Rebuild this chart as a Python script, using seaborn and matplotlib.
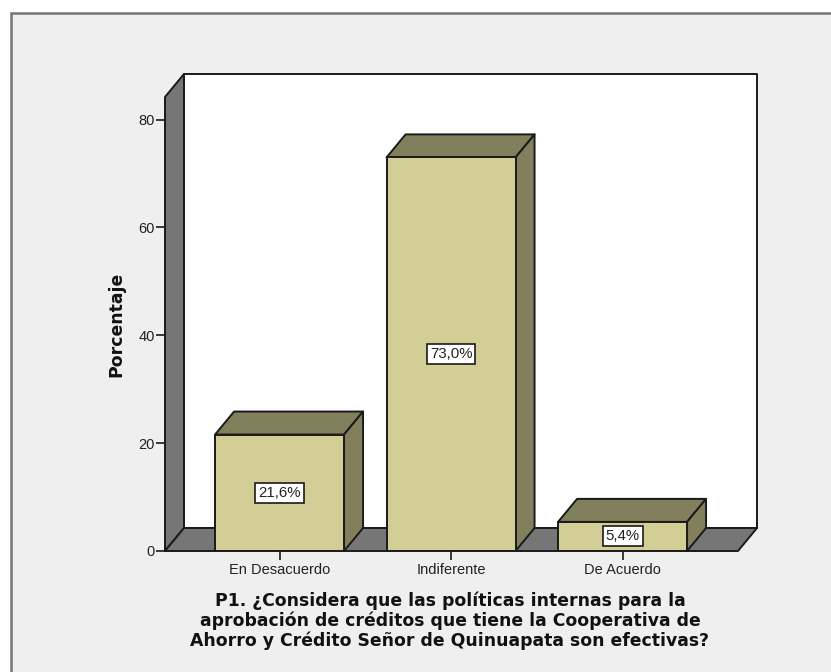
import matplotlib
matplotlib.use("Agg")
import matplotlib.pyplot as plt
from matplotlib.patches import Polygon, Rectangle
import seaborn as sns
import pandas as pd

categories = ["En Desacuerdo", "Indiferente", "De Acuerdo"]
percentages = [21.6, 73.0, 5.4]
value_labels = ["21,6%", "73,0%", "5,4%"]
y_ticks = [0, 20, 40, 60, 80]
y_label = "Porcentaje"
x_title = ("P1. ¿Considera que las políticas internas para la\n"
           "aprobación de créditos que tiene la Cooperativa de\n"
           "Ahorro y Crédito Señor de Quinuapata son efectivas?")

W, H = 831, 672
FACE = "#D2CE96"
SHADE = "#817F5C"
WALL = "#767676"
INK = "#1A1A1A"
PANEL = "#EFEFEF"

sns.set_theme(style="white")
plt.rcParams["font.family"] = ["Liberation Sans", "DejaVu Sans"]

fig = plt.figure(figsize=(W / 100, H / 100), dpi=100, facecolor="white")
fig.add_artist(Rectangle((11 / W, -0.01), (W - 5) / W, 1 - 13 / H + 0.01, transform=fig.transFigure,
                         facecolor=PANEL, edgecolor="#747474", linewidth=1.8, zorder=-1))

ax = fig.add_axes([165 / W, 1 - 551 / H, 573 / W, 454 / H])
ax.patch.set_alpha(0)
df = pd.DataFrame({"categoria": categories, "porcentaje": percentages})
sns.barplot(data=df, x="categoria", y="porcentaje", ax=ax, width=0.752,
            color=FACE, saturation=1, edgecolor=INK, linewidth=1.4, zorder=5)

ax.set_xlim(-0.668, 2.673)
ax.set_ylim(0, 84.2)

# Oblique projection offsets for the 3D box look
dx = 19 / 573 * (ax.get_xlim()[1] - ax.get_xlim()[0])
dy = 23 / 454 * ax.get_ylim()[1]
x0, x1 = ax.get_xlim()
y0, y1 = ax.get_ylim()

def face(points, color, z):
    ax.add_patch(Polygon(points, closed=True, facecolor=color, edgecolor=INK,
                         linewidth=1.4, joinstyle="round", clip_on=False, zorder=z))

face([(x0 + dx, y0 + dy), (x1 + dx, y0 + dy), (x1 + dx, y1 + dy), (x0 + dx, y1 + dy)], "white", 1)
face([(x0, y0), (x0 + dx, y0 + dy), (x0 + dx, y1 + dy), (x0, y1)], WALL, 2)
face([(x0, y0), (x1, y0), (x1 + dx, y0 + dy), (x0 + dx, y0 + dy)], WALL, 2)

half = 0.752 / 2
for i, v in enumerate(percentages):
    left, right = i - half, i + half
    face([(left, v), (right, v), (right + dx, v + dy), (left + dx, v + dy)], SHADE, 4)
    face([(right, 0), (right + dx, dy), (right + dx, v + dy), (right, v)], SHADE, 4)
    ax.text(i, v / 2, value_labels[i], ha="center", va="center", fontsize=10.8,
            color="#222222", zorder=7,
            bbox=dict(boxstyle="square,pad=0.2", facecolor="white", edgecolor=INK, linewidth=1.2))

ax.set_yticks(y_ticks)
ax.set_xticks(range(len(categories)))
ax.set_xticklabels(categories)
ax.tick_params(axis="both", length=6.5, width=1.2, color=INK, labelcolor="#222222",
               labelsize=10.5, pad=1, bottom=True, left=True)
ax.tick_params(axis="x", pad=2)
for side in ("top", "right", "left", "bottom"):
    ax.spines[side].set_visible(False)

ax.set_ylabel(y_label, fontsize=12.4, fontfamily="DejaVu Sans", fontweight="bold", color="#111111")
ax.set_xlabel(x_title, fontsize=12.4, fontfamily="DejaVu Sans", fontweight="bold", color="#111111",
              linespacing=1.07)
ax.xaxis.set_label_coords((450 - 165) / 573, -(592 - 551) / 454, transform=ax.transAxes)
ax.xaxis.label.set_va("top")
ax.yaxis.set_label_coords((125 - 165) / 573, (551 - 324) / 454)

fig.savefig("out.png", dpi=100)
